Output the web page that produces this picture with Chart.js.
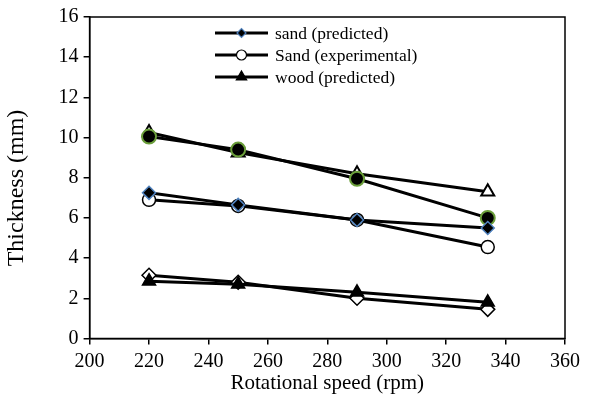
<!DOCTYPE html>
<html>
<head>
<meta charset="utf-8">
<script src="https://cdn.jsdelivr.net/npm/chart.js@4.4.1/dist/chart.umd.min.js"></script>
<style>
html, body { margin: 0; padding: 0; background: #fff; }
</style>
</head>
<body>
<canvas id="thicknessChart" width="594" height="405"></canvas>
<script>
// data
const speeds = [220, 250, 290, 334];
const sandPredicted = [7.25, 6.65, 5.9, 5.5];
const sandExperimental = [6.9, 6.6, 5.9, 4.55];
const woodPredicted = [2.85, 2.7, 2.3, 1.8];
const woodUpperTriangles = [10.25, 9.25, 8.2, 7.3];
const woodUpperCircles = [10.05, 9.4, 7.95, 6.0];
const lowerDiamonds = [3.15, 2.8, 2.0, 1.45];
const legendLabels = ["sand (predicted)", "Sand (experimental)", "wood (predicted)"];
const yTitle = 'Thickness (mm)';
const xTickStep = 20;
const yTickStep = 2;

const serif = '"Liberation Serif", "Times New Roman", serif';

function toPoints(values) {
    return speeds.map((s, i) => ({ x: s, y: values[i] }));
}

function series(label, values, style, order) {
    return Object.assign({
        label: label,
        data: toPoints(values),
        borderColor: '#000',
        borderWidth: 3,
        pointBorderWidth: 1.5,
        order: order
    }, style);
}

// lower "order" is drawn on top
const datasets = [
    series(legendLabels[0], sandPredicted, {
        pointStyle: 'rectRot', pointRadius: 6.5, pointBackgroundColor: '#000',
        pointBorderColor: '#4f81bd'
    }, 1),
    series(legendLabels[1], sandExperimental, {
        pointStyle: 'circle', pointRadius: 6.5, pointBackgroundColor: '#fff',
        pointBorderColor: '#000'
    }, 2),
    series(legendLabels[2], woodPredicted, {
        pointStyle: 'triangle', pointRadius: 7.5, pointBackgroundColor: '#000',
        pointBorderColor: '#000'
    }, 3),
    series('', lowerDiamonds, {
        pointStyle: 'rectRot', pointRadius: 7, pointBackgroundColor: '#fff',
        pointBorderColor: '#000'
    }, 4),
    series('', woodUpperCircles, {
        pointStyle: 'circle', pointRadius: 7, pointBackgroundColor: '#000',
        pointBorderColor: '#6a9e3a', pointBorderWidth: 2
    }, 5),
    series('', woodUpperTriangles, {
        pointStyle: 'triangle', pointRadius: 7.5, pointBackgroundColor: '#fff',
        pointBorderColor: '#000', pointBorderWidth: 2
    }, 6)
];

const frameBox = {
    id: 'frameBox',
    beforeDatasetsDraw(chart) {
        const a = chart.chartArea;
        const ctx = chart.ctx;
        ctx.save();
        ctx.strokeStyle = '#000';
        ctx.lineWidth = 1.5;
        ctx.strokeRect(a.left, a.top, a.right - a.left, a.bottom - a.top);
        ctx.restore();
    }
};

// legend with a line through the marker, like the spreadsheet one
const lineLegend = {
    id: 'lineLegend',
    afterDraw(chart) {
        const ctx = chart.ctx;
        const x0 = 215, x1 = 268, textX = 275;
        const rows = [33, 55, 77];
        const sizes = [4.5, 5, 6];
        ctx.save();
        legendLabels.forEach((label, i) => {
            const ds = chart.data.datasets[i];
            const y = rows[i];
            ctx.strokeStyle = '#000';
            ctx.lineWidth = 3;
            ctx.beginPath();
            ctx.moveTo(x0, y);
            ctx.lineTo(x1, y);
            ctx.stroke();
            ctx.fillStyle = ds.pointBackgroundColor;
            ctx.strokeStyle = ds.pointBorderColor;
            ctx.lineWidth = 1.2;
            Chart.helpers.drawPoint(ctx, {
                pointStyle: ds.pointStyle, radius: sizes[i], rotation: 0, borderWidth: 1.2
            }, (x0 + x1) / 2, y);
            ctx.fillStyle = '#000';
            ctx.font = '17.5px ' + serif;
            ctx.textBaseline = 'middle';
            ctx.textAlign = 'left';
            ctx.fillText(label, textX, y + 1);
        });
        ctx.restore();
    }
};

// y title drawn by hand, it sits a little below the plot middle
const yTitlePlugin = {
    id: 'yTitlePlugin',
    afterDraw(chart) {
        const ctx = chart.ctx;
        ctx.save();
        ctx.translate(17, 188);
        ctx.rotate(-Math.PI / 2);
        ctx.font = '24px ' + serif;
        ctx.fillStyle = '#000';
        ctx.textBaseline = 'middle';
        ctx.textAlign = 'center';
        ctx.fillText(yTitle, 0, 0);
        ctx.restore();
    }
};

const axisLine = { display: true, color: '#000', width: 1.5 };
const tickMarks = {
    display: true, drawOnChartArea: false, drawTicks: true,
    tickLength: 6, color: '#000', lineWidth: 1.5
};

new Chart(document.getElementById('thicknessChart').getContext('2d'), {
    type: 'line',
    data: { datasets: datasets },
    options: {
        responsive: false,
        animation: false,
        devicePixelRatio: 1,
        layout: { padding: { top: 17, right: 29, left: 0, bottom: 0 } },
        plugins: {
            legend: { display: false },
            tooltip: { enabled: false }
        },
        scales: {
            x: {
                type: 'linear',
                min: 200,
                max: 360,
                border: axisLine,
                grid: tickMarks,
                ticks: {
                    stepSize: xTickStep, color: '#000', padding: 5,
                    font: { family: serif, size: 20 }, maxRotation: 0
                },
                title: {
                    display: true, text: 'Rotational speed (rpm)', color: '#000',
                    font: { family: serif, size: 21 }, padding: { top: 0, bottom: 9 }
                },
                afterFit(scale) { scale.height = 66.5; }
            },
            y: {
                min: 0,
                max: 16,
                border: axisLine,
                grid: tickMarks,
                ticks: {
                    stepSize: yTickStep, color: '#000', padding: 5,
                    font: { family: serif, size: 20 }
                },
                title: { display: false },
                afterFit(scale) { scale.width = 89.6; }
            }
        }
    },
    plugins: [frameBox, lineLegend, yTitlePlugin]
});
</script>
</body>
</html>
